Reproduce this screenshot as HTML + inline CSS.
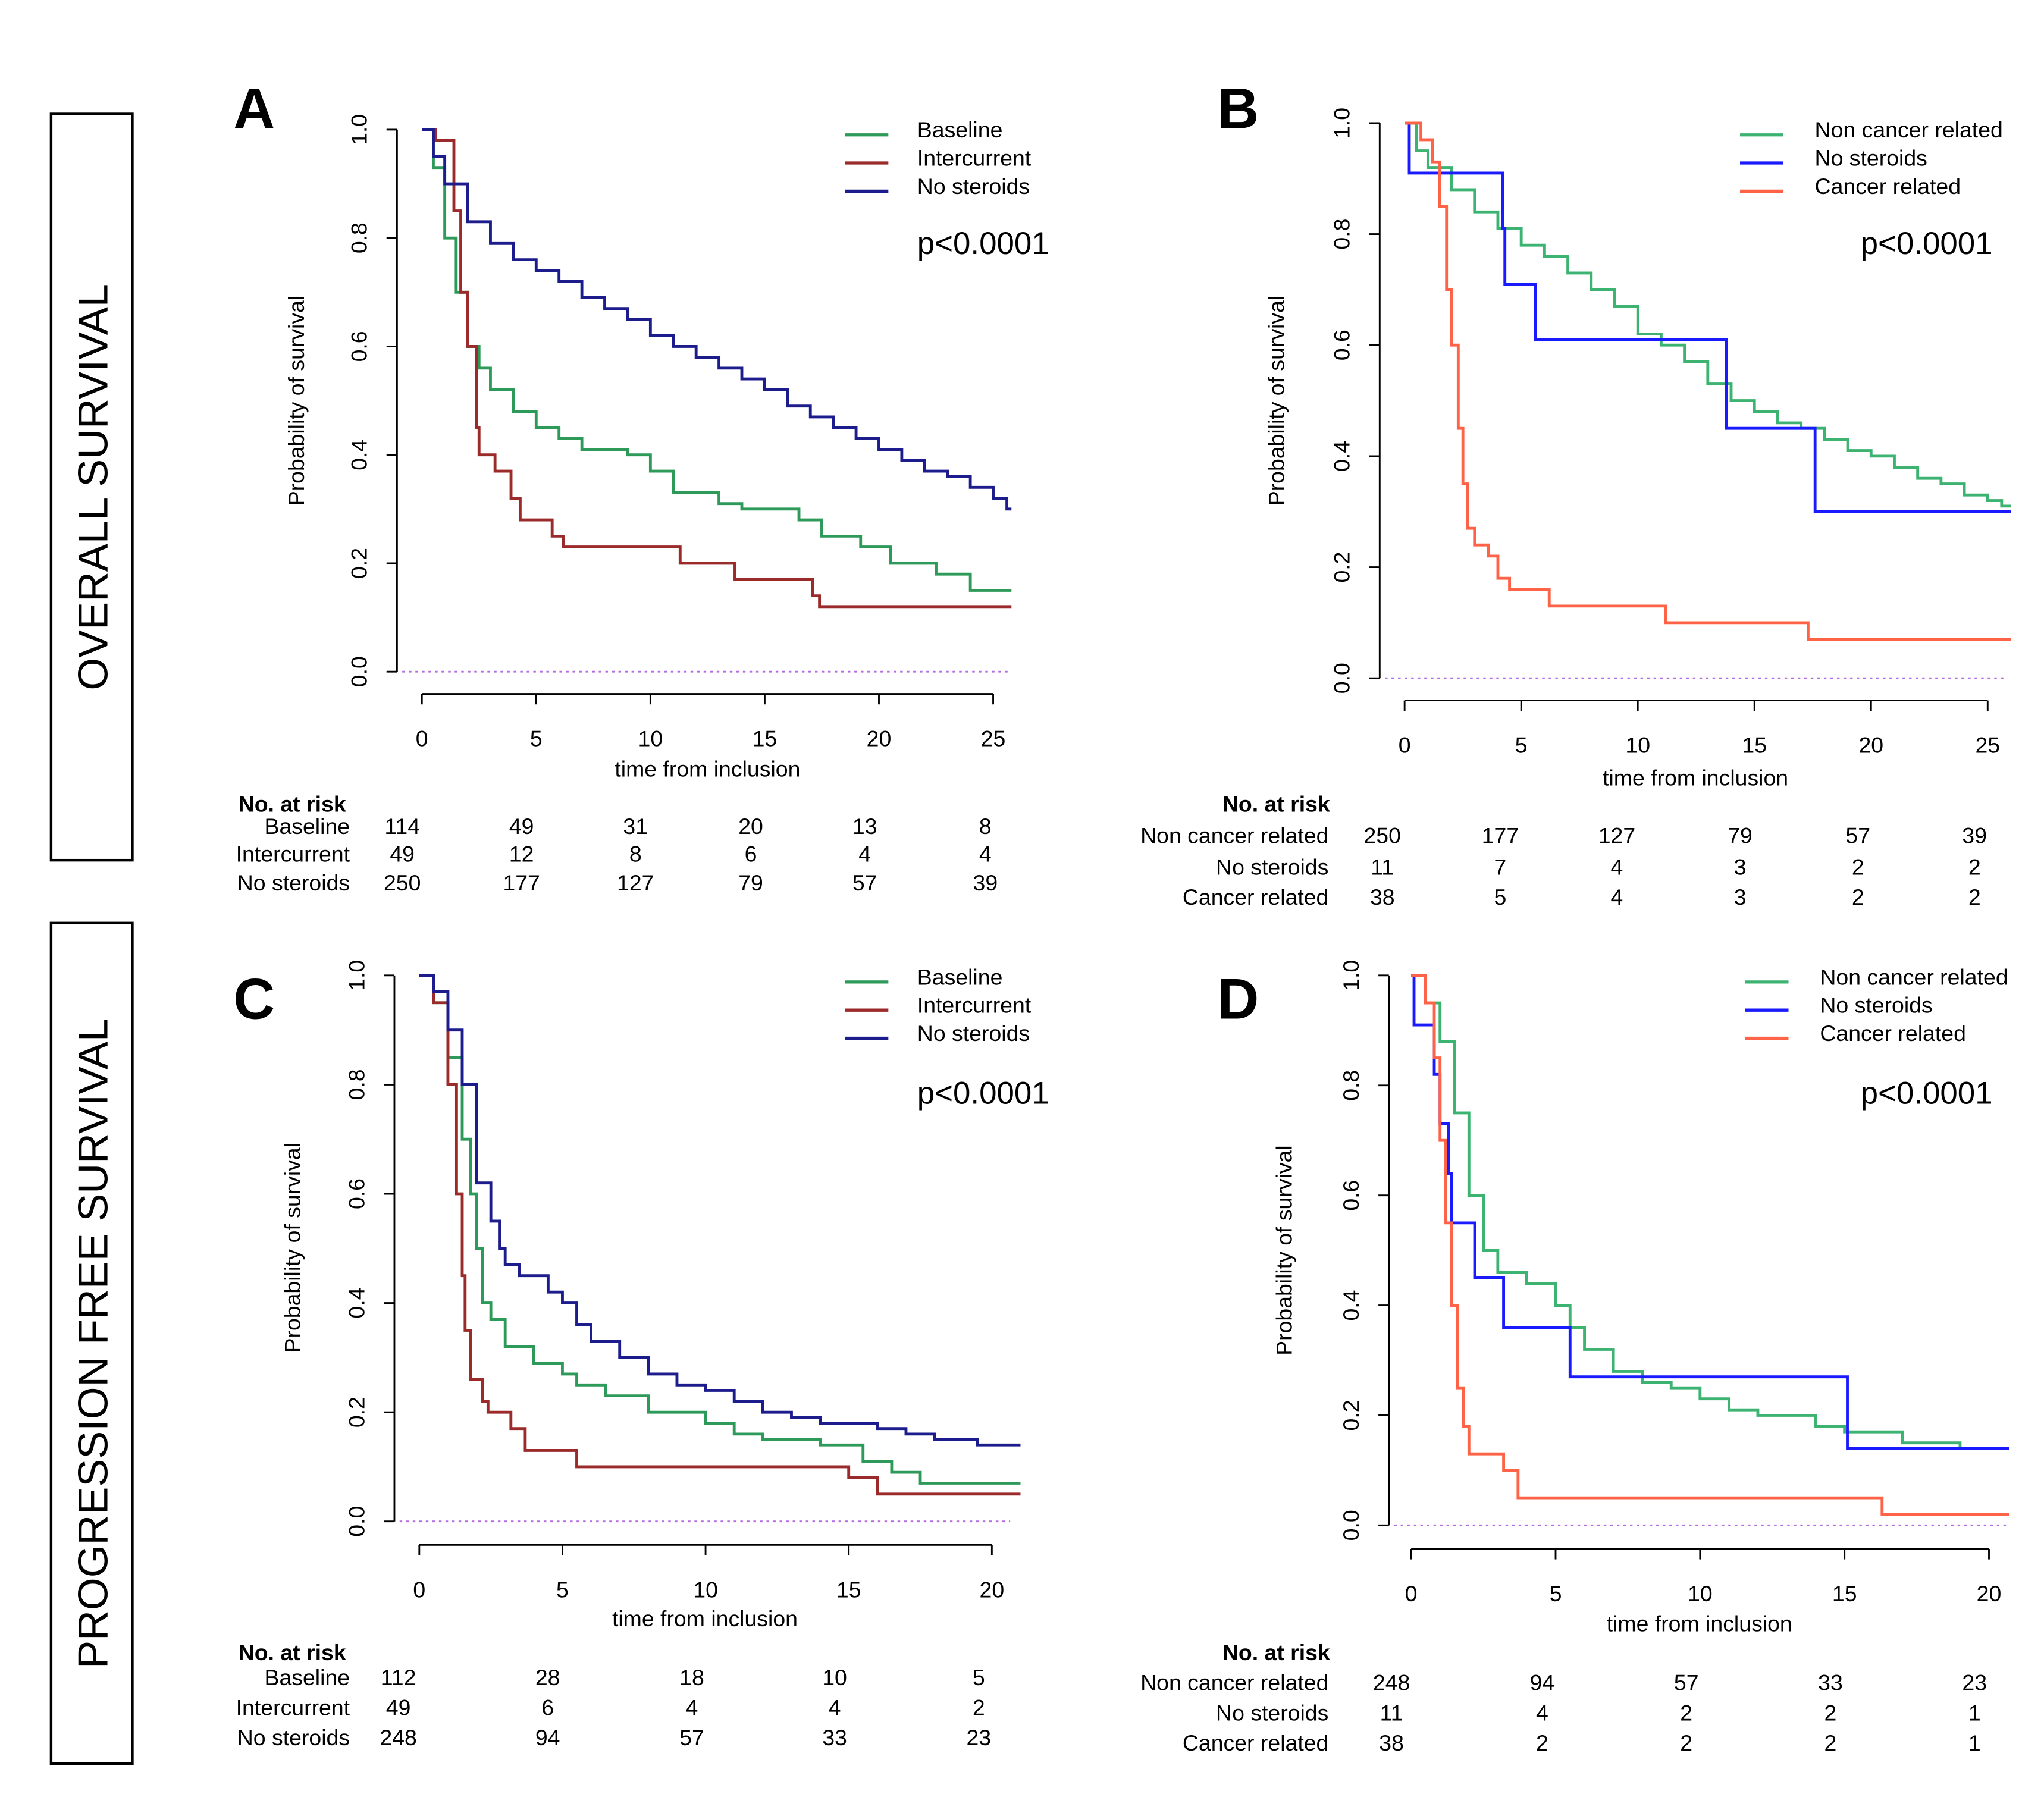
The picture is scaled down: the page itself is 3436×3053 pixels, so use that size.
<!DOCTYPE html>
<html><head><meta charset="utf-8"><style>
html,body{margin:0;padding:0;background:#fff}
svg{display:block;font-family:"Liberation Sans",Arial,sans-serif}
</style></head><body>
<svg id="fig" width="3436" height="3053" viewBox="0 0 1560 1387" preserveAspectRatio="none" xmlns="http://www.w3.org/2000/svg">
<rect x="0" y="0" width="1560" height="1387" fill="#fff"/>
<rect x="39" y="87" width="62" height="570" fill="none" stroke="#000" stroke-width="2"/>
<text transform="translate(82,372) rotate(-90)" text-anchor="middle" font-size="32">OVERALL SURVIVAL</text>
<rect x="39" y="705" width="62" height="642" fill="none" stroke="#000" stroke-width="2"/>
<text transform="translate(82,1026) rotate(-90)" text-anchor="middle" font-size="32">PROGRESSION FREE SURVIVAL</text>
</svg>
<script>
// ---- Data: Kaplan-Meier step points [time, survival] ----
const timesA_base=[0,0.5,1,1.5,2,2.5,3,4,5,6,7,9,10,11,13,14,16.5,17.5,19.2,20.5,22.5,24];
const survA_base=[1,0.93,0.8,0.7,0.6,0.56,0.52,0.48,0.45,0.43,0.41,0.40,0.37,0.33,0.31,0.30,0.28,0.25,0.23,0.20,0.18,0.15];
const timesA_inter=[0,0.6,1.4,1.7,2,2.4,2.5,3.2,3.9,4.3,5.7,6.2,11.3,13.7,17.1,17.4];
const survA_inter=[1,0.98,0.85,0.7,0.6,0.45,0.40,0.37,0.32,0.28,0.25,0.23,0.20,0.17,0.14,0.12];
const timesA_nos=[0,0.5,1,2,3,4,5,6,7,8,9,10,11,12,13,14,15,16,17,18,19,20,21,22,23,24,25,25.6];
const survA_nos=[1,0.95,0.9,0.83,0.79,0.76,0.74,0.72,0.69,0.67,0.65,0.62,0.60,0.58,0.56,0.54,0.52,0.49,0.47,0.45,0.43,0.41,0.39,0.37,0.36,0.34,0.32,0.30];
const timesB_nc=[0,0.5,1,2,3,4,5,6,7,8,9,10,11,12,13,14,15,16,17,18,19,20,21,22,23,24,25,25.6];
const survB_nc=[1,0.95,0.92,0.88,0.84,0.81,0.78,0.76,0.73,0.70,0.67,0.62,0.60,0.57,0.53,0.50,0.48,0.46,0.45,0.43,0.41,0.40,0.38,0.36,0.35,0.33,0.32,0.31];
const timesB_nos=[0,0.2,4.2,4.3,5.6,13.8,17.6];
const survB_nos=[1,0.91,0.81,0.71,0.61,0.45,0.30];
const timesB_cr=[0,0.7,1.2,1.5,1.8,2,2.3,2.5,2.7,3,3.6,4,4.5,6.2,11.2,17.3];
const survB_cr=[1,0.97,0.93,0.85,0.7,0.6,0.45,0.35,0.27,0.24,0.22,0.18,0.16,0.13,0.10,0.07];
const timesC_base=[0,0.5,1,1.5,1.8,2,2.2,2.5,3,4,5,5.5,6.5,8,10,11,12,14,15.5,16.5,17.5];
const survC_base=[1,0.95,0.85,0.7,0.6,0.5,0.4,0.37,0.32,0.29,0.27,0.25,0.23,0.20,0.18,0.16,0.15,0.14,0.11,0.09,0.07];
const timesC_inter=[0,0.5,1,1.3,1.5,1.6,1.8,2.2,2.4,3.2,3.7,5.5,15,16];
const survC_inter=[1,0.95,0.8,0.6,0.45,0.35,0.26,0.22,0.2,0.17,0.13,0.10,0.08,0.05];
const timesC_nos=[0,0.5,1,1.5,2,2.5,2.8,3,3.5,4.5,5,5.5,6,7,8,9,10,11,12,13,14,16,17,18,19.5];
const survC_nos=[1,0.97,0.9,0.8,0.62,0.55,0.5,0.47,0.45,0.42,0.4,0.36,0.33,0.3,0.27,0.25,0.24,0.22,0.20,0.19,0.18,0.17,0.16,0.15,0.14];
const timesD_nc=[0,0.5,1,1.5,2,2.5,3,4,5,5.5,6,7,8,9,10,11,12,14,15,17,19];
const survD_nc=[1,0.95,0.88,0.75,0.6,0.5,0.46,0.44,0.40,0.36,0.32,0.28,0.26,0.25,0.23,0.21,0.20,0.18,0.17,0.15,0.14];
const timesD_nos=[0,0.1,0.8,1,1.3,1.4,2.2,3.2,5.5,15.1];
const survD_nos=[1,0.91,0.82,0.73,0.64,0.55,0.45,0.36,0.27,0.14];
const timesD_cr=[0,0.5,0.8,1,1.2,1.4,1.6,1.8,2,3.2,3.7,16.3];
const survD_cr=[1,0.95,0.85,0.7,0.55,0.4,0.25,0.18,0.13,0.10,0.05,0.02];
const xTicksAB=[0,5,10,15,20,25];
const xTicksCD=[0,5,10,15,20];
const yTicks=[0,0.2,0.4,0.6,0.8,1.0];
const riskA_names=["Baseline","Intercurrent","No steroids"];
const riskA=[[114,49,31,20,13,8],[49,12,8,6,4,4],[250,177,127,79,57,39]];
const riskB_names=["Non cancer related","No steroids","Cancer related"];
const riskB=[[250,177,127,79,57,39],[11,7,4,3,2,2],[38,5,4,3,2,2]];
const riskC=[[112,28,18,10,5],[49,6,4,4,2],[248,94,57,33,23]];
const riskD=[[248,94,57,33,23],[11,4,2,2,1],[38,2,2,2,1]];

const NS="http://www.w3.org/2000/svg";
const svg=document.getElementById('fig');
function mk(tag,attrs,parent){const e=document.createElementNS(NS,tag);for(const k in attrs)e.setAttribute(k,attrs[k]);(parent||svg).appendChild(e);return e;}
function txt(s,attrs,parent){const e=mk('text',attrs,parent);e.textContent=s;return e;}

const panels=[
 {id:'a',letter:'A',lx:194,ly:98,yx:303,y1:99,y0:513,axY:530,x0:322,xmax:25,xEnd:758,endT:25.8,ticks:xTicksAB,
  series:[[timesA_base,survA_base,'#2e9a5a'],[timesA_inter,survA_inter,'#9b2a2a'],[timesA_nos,survA_nos,'#1c1c8c']],
  leg:{x:645,y:99,names:riskA_names,cols:['#2e9a5a','#9b2a2a','#1c1c8c']},p:{x:700,y:194},
  risk:{names:riskA_names,rows:riskA,hx:223,hy:620,nameX:267,y:[637,658,680],cols:[307,398,485,573,660,752]},yl:{x:232,y:306},xl:{x:540,y:593}},
 {id:'b',letter:'B',lx:945,ly:98,yx:1053,y1:94,y0:518,axY:535,x0:1072,xmax:25,xEnd:1517,endT:26,ticks:xTicksAB,
  series:[[timesB_nc,survB_nc,'#3cb371'],[timesB_nos,survB_nos,'#1a1aff'],[timesB_cr,survB_cr,'#ff6347']],
  leg:{x:1328,y:99,names:riskB_names,cols:['#3cb371','#1a1aff','#ff6347']},p:{x:1420,y:194},
  risk:{names:riskB_names,rows:riskB,hx:974,hy:620,nameX:1014,y:[644,668,691],cols:[1055,1145,1234,1328,1418,1507]},yl:{x:980,y:306},xl:{x:1294,y:600}},
 {id:'c',letter:'C',lx:194,ly:778,yx:301,y1:745,y0:1162,axY:1180,x0:320,xmax:20,xEnd:757,endT:21,ticks:xTicksCD,
  series:[[timesC_base,survC_base,'#2e9a5a'],[timesC_inter,survC_inter,'#9b2a2a'],[timesC_nos,survC_nos,'#1c1c8c']],
  leg:{x:645,y:746,names:riskA_names,cols:['#2e9a5a','#9b2a2a','#1c1c8c']},p:{x:700,y:843},
  risk:{names:riskA_names,rows:riskC,hx:223,hy:1268,nameX:267,y:[1287,1310,1333],cols:[304,418,528,637,747]},yl:{x:229,y:953},xl:{x:538,y:1242}},
 {id:'d',letter:'D',lx:945,ly:778,yx:1060,y1:745,y0:1165,axY:1183,x0:1077,xmax:20,xEnd:1518,endT:20.7,ticks:xTicksCD,
  series:[[timesD_nc,survD_nc,'#3cb371'],[timesD_nos,survD_nos,'#1a1aff'],[timesD_cr,survD_cr,'#ff6347']],
  leg:{x:1332,y:746,names:riskB_names,cols:['#3cb371','#1a1aff','#ff6347']},p:{x:1420,y:843},
  risk:{names:riskB_names,rows:riskD,hx:974,hy:1268,nameX:1014,y:[1291,1314,1337],cols:[1062,1177,1287,1397,1507]},yl:{x:986,y:955},xl:{x:1297,y:1246}}
];

panels.forEach(P=>{
  const g=mk('g',{});
  
  
  const sx=t=>P.x0+(P.xEnd-P.x0)*t/P.xmax;
  const sy=v=>P.y0+(P.y1-P.y0)*v;
  const L=txt(P.letter,{x:P.lx,y:P.ly,'font-size':44,'font-weight':'bold','text-anchor':'middle'},g);
  
  
  // y axis
  const ya=mk('line',{x1:P.yx,x2:P.yx,y1:sy(0),y2:sy(1),stroke:'#000','stroke-width':1.3},g);
  
  
  yTicks.forEach(v=>{
    mk('line',{x1:P.yx-8,x2:P.yx,y1:sy(v),y2:sy(v),stroke:'#000','stroke-width':1.3},g);
    const t=txt(v.toFixed(1),{transform:`translate(${P.yx-23},${sy(v)}) rotate(-90)`,'text-anchor':'middle','font-size':17},g);
    
    
  });
  const yl=txt('Probability of survival',{transform:`translate(${P.yl.x},${P.yl.y}) rotate(-90)`,'text-anchor':'middle','font-size':17},g);
  
  
  // x axis
  const xa=mk('line',{x1:sx(0),x2:sx(P.ticks[P.ticks.length-1]),y1:P.axY,y2:P.axY,stroke:'#000','stroke-width':1.3},g);
  
  
  P.ticks.forEach(v=>{
    mk('line',{x1:sx(v),x2:sx(v),y1:P.axY,y2:P.axY+8,stroke:'#000','stroke-width':1.3},g);
    const t=txt(String(v),{x:sx(v),y:P.axY+40,'text-anchor':'middle','font-size':17},g);
    
    
  });
  const xl=txt('time from inclusion',{x:P.xl.x,y:P.xl.y,'text-anchor':'middle','font-size':17},g);
  
  
  // zero line
  const z=mk('line',{x1:P.yx+4,x2:P.xEnd+14,y1:sy(0),y2:sy(0),stroke:'#b36be0','stroke-width':1.3,'stroke-dasharray':'2 3'},g);
  
  
  // curves
  P.series.forEach((s,i)=>{
    const [ts,vs,c]=s;
    let d=`M${sx(ts[0])},${sy(vs[0])}`;
    for(let k=1;k<ts.length;k++){d+=`H${sx(ts[k])}V${sy(vs[k])}`;}
    d+=`H${sx(P.endT)}`;
    const p=mk('path',{d:d,fill:'none',stroke:c,'stroke-width':2.2},g);
    
    
  });
  // legend
  P.leg.names.forEach((n,i)=>{
    const y=P.leg.y+i*21.5;
    const ln=mk('line',{x1:P.leg.x,x2:P.leg.x+33,y1:y+4,y2:y+4,stroke:P.leg.cols[i],'stroke-width':2.4},g);
    
    
    const t=txt(n,{x:P.leg.x+(P.id==='a'||P.id==='c'?55:57),y:y+6,'font-size':17},g);
    
    
  });
  const pv=txt('p<0.0001',{x:P.p.x,y:P.p.y,'font-size':24},g);
  
  
  // risk table
  const R=P.risk;
  const h=txt('No. at risk',{x:R.hx,y:R.hy,'text-anchor':'middle','font-size':17,'font-weight':'bold'},g);
  
  
  R.names.forEach((n,i)=>{
    const t=txt(n,{x:R.nameX,y:R.y[i],'text-anchor':'end','font-size':17},g);
    
    
    R.rows[i].forEach((v,j)=>{
      const c=txt(String(v),{x:R.cols[j],y:R.y[i],'text-anchor':'middle','font-size':17},g);
      
      
    });
  });
});
</script>
</body></html>
